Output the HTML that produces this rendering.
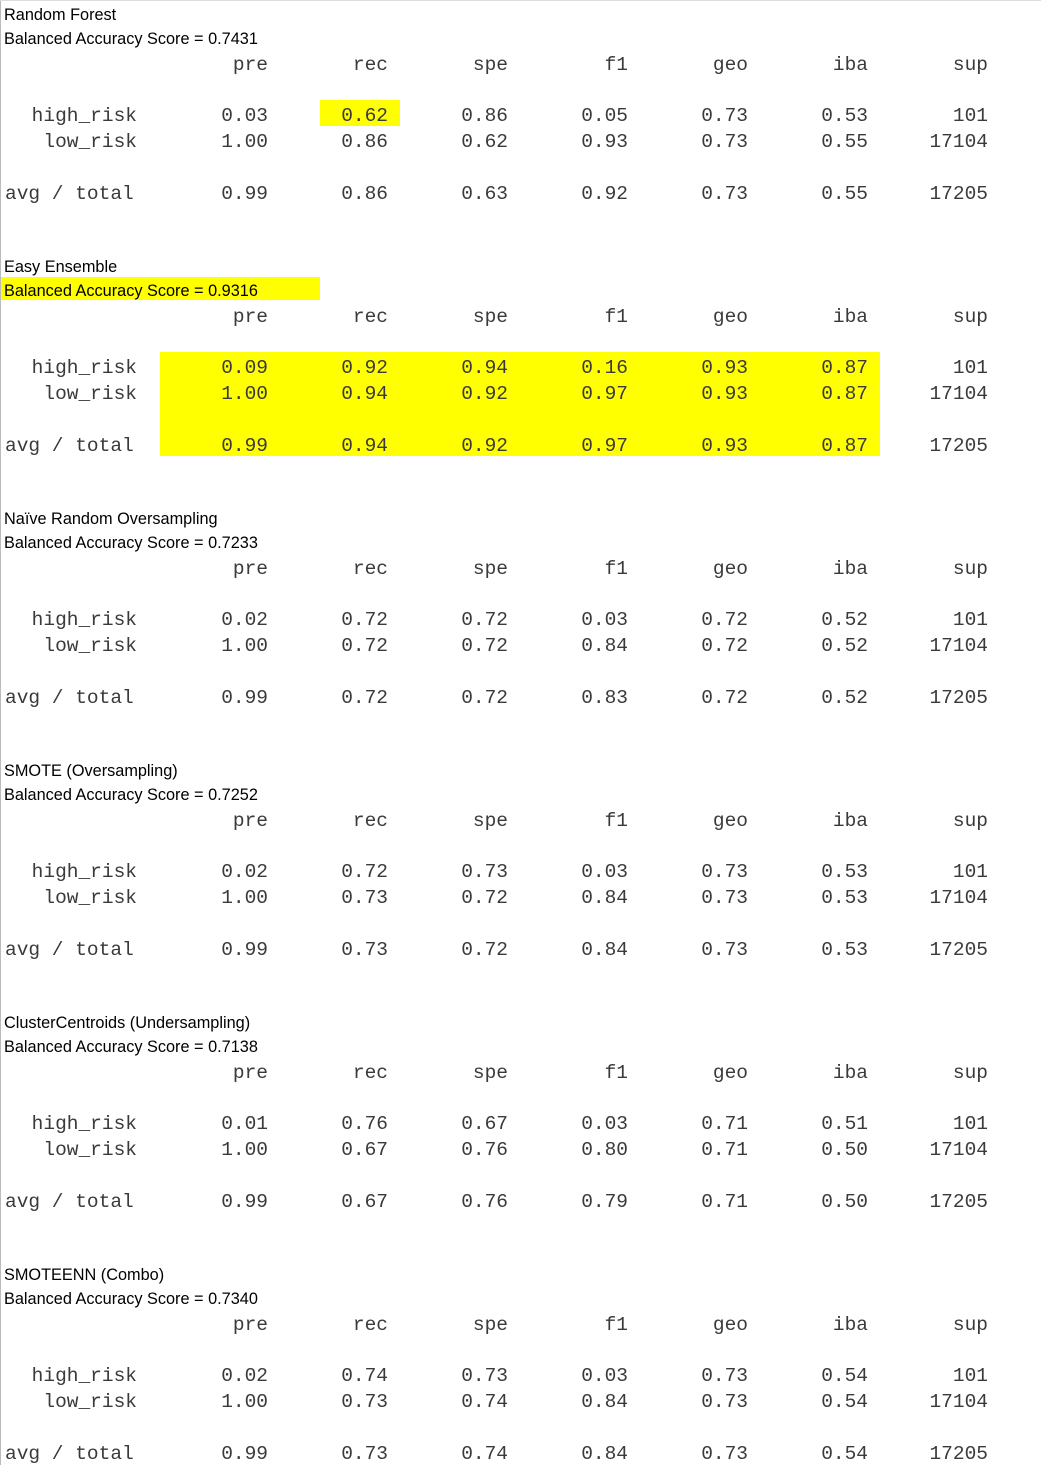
<!DOCTYPE html>
<html><head><meta charset="utf-8"><style>
body{margin:0;width:1041px;height:1465px;background:#fff;position:relative;overflow:hidden}
.t{position:absolute;white-space:pre;line-height:24px;height:24px;color:#000}
.s{font-family:"Liberation Sans",sans-serif;font-size:16.3px}
.m{font-family:"Liberation Mono",monospace;font-size:19.5px;color:#3a3a3a}
.hl{position:absolute;background:#ffff00}
</style></head><body>
<div style="position:absolute;left:0;top:0;width:1px;height:1465px;background:#bbb"></div>
<div style="position:absolute;left:0;top:0;width:1041px;height:1px;background:#ddd"></div>
<div class="hl" style="left:320px;top:100px;width:80px;height:26px"></div>
<div class="hl" style="left:1px;top:277px;width:319px;height:23px"></div>
<div class="hl" style="left:160px;top:352px;width:720px;height:104px"></div>
<script>
const models=["Random Forest","Easy Ensemble","Naïve Random Oversampling","SMOTE (Oversampling)","ClusterCentroids (Undersampling)","SMOTEENN (Combo)"];
const scores=["0.7431","0.9316","0.7233","0.7252","0.7138","0.7340"];
const headers=["pre","rec","spe","f1","geo","iba","sup"];
const rowLabels=["high_risk","low_risk","avg / total"];
const highRisk=[["0.03","0.62","0.86","0.05","0.73","0.53","101"],["0.09","0.92","0.94","0.16","0.93","0.87","101"],["0.02","0.72","0.72","0.03","0.72","0.52","101"],["0.02","0.72","0.73","0.03","0.73","0.53","101"],["0.01","0.76","0.67","0.03","0.71","0.51","101"],["0.02","0.74","0.73","0.03","0.73","0.54","101"]];
const lowRisk=[["1.00","0.86","0.62","0.93","0.73","0.55","17104"],["1.00","0.94","0.92","0.97","0.93","0.87","17104"],["1.00","0.72","0.72","0.84","0.72","0.52","17104"],["1.00","0.73","0.72","0.84","0.73","0.53","17104"],["1.00","0.67","0.76","0.80","0.71","0.50","17104"],["1.00","0.73","0.74","0.84","0.73","0.54","17104"]];
const avgTotal=[["0.99","0.86","0.63","0.92","0.73","0.55","17205"],["0.99","0.94","0.92","0.97","0.93","0.87","17205"],["0.99","0.72","0.72","0.83","0.72","0.52","17205"],["0.99","0.73","0.72","0.84","0.73","0.53","17205"],["0.99","0.67","0.76","0.79","0.71","0.50","17205"],["0.99","0.73","0.74","0.84","0.73","0.54","17205"]];
function put(txt,cls,cy,x,right,name){
  const d=document.createElement('div');
  d.className='t '+cls;d.textContent=txt;
  
  
  d.style.top=(cy-12)+'px';
  if(right){d.style.right=(1041-x)+'px';}else{d.style.left=x+'px';}
  document.body.appendChild(d);
}
models.forEach((m,i)=>{
  const b=i*252;
  put(m,'s',b+15,4,false,'model-title');
  put('Balanced Accuracy Score = '+scores[i],'s',b+39,4,false,'balanced-accuracy-score');
  headers.forEach((h,j)=>put(h,'m',b+65,268+120*j,true,'column-header-'+h));
  put(rowLabels[0],'m',b+116,137,true,'row-label-high-risk');
  put(rowLabels[1],'m',b+142,137,true,'row-label-low-risk');
  put(rowLabels[2],'m',b+194,5,false,'row-label-avg-total');
  [highRisk,lowRisk,avgTotal].forEach((arr,r)=>{
    const y=b+[116,142,194][r];
    arr[i].forEach((v,j)=>put(v,'m',y,268+120*j,true,'cell-'+headers[j]));
  });
});
</script>
</body></html>
